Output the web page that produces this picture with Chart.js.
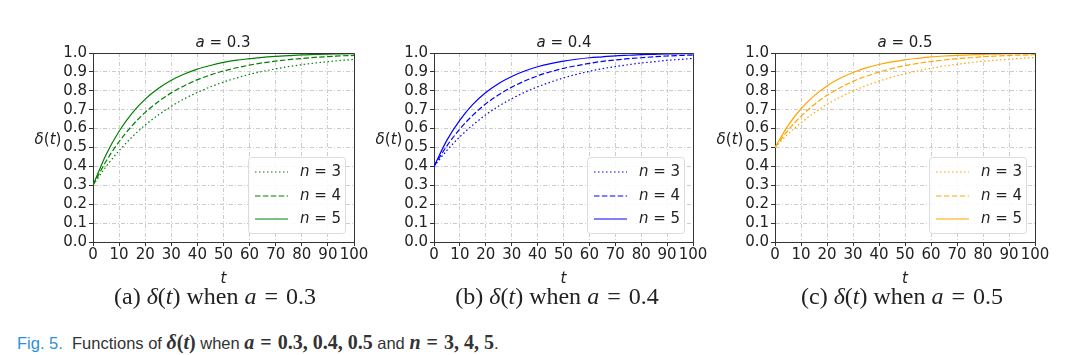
<!DOCTYPE html>
<html>
<head>
<meta charset="utf-8">
<script src="https://cdn.jsdelivr.net/npm/chart.js@4.4.0/dist/chart.umd.min.js"></script>
<style>
  body { margin: 0; background: #fff; }
  #page { position: relative; width: 1078px; height: 355px; overflow: hidden; background: #fff; }
  .holder { position: absolute; top: 30px; width: 370px; height: 260px; }
  .lbl { position: absolute; transform: translate(-50%, -50%); white-space: nowrap; color: #222;
         font-family: "DejaVu Sans", sans-serif; font-size: 15px; line-height: 18px; }
  .cap { position: absolute; transform: translate(-50%, -50%); white-space: nowrap; color: #222;
         font-family: "Liberation Serif", "DejaVu Serif", serif; font-size: 24px; line-height: 26px; }
  .cap .eq { margin: 0 8px; }
  #fig { position: absolute; left: 17px; top: 342px; transform: translateY(-50%); white-space: nowrap; color: #333;
         font-family: "Liberation Sans", Arial, sans-serif; font-size: 16.5px; line-height: 20px; }
  #fig .blue { color: #2f8fd8; }
  #fig b { font-family: "Liberation Serif", serif; font-size: 20px; }
  #fig .eq { margin: 0 6px; }
</style>
</head>
<body>
<div id="page">
  <div class="holder" style="left:0px"><canvas id="c1" width="370" height="260"></canvas></div>
  <div class="holder" style="left:341px"><canvas id="c2" width="370" height="260"></canvas></div>
  <div class="holder" style="left:682px"><canvas id="c3" width="370" height="260"></canvas></div>

  <div class="lbl" style="left:223px;top:42px"><i>a</i> = 0.3</div>
  <div class="lbl" style="left:564px;top:42px"><i>a</i> = 0.4</div>
  <div class="lbl" style="left:905px;top:42px"><i>a</i> = 0.5</div>

  <div class="lbl" style="left:48px;top:139px"><i>δ</i>(<i>t</i>)</div>
  <div class="lbl" style="left:389px;top:139px"><i>δ</i>(<i>t</i>)</div>
  <div class="lbl" style="left:730px;top:139px"><i>δ</i>(<i>t</i>)</div>

  <div class="cap" style="left:215px;top:296px">(a) <i>δ</i>(<i>t</i>) when <i>a</i><span class="eq">=</span>0.3</div>
  <div class="cap" style="left:557px;top:296px">(b) <i>δ</i>(<i>t</i>) when <i>a</i><span class="eq">=</span>0.4</div>
  <div class="cap" style="left:902px;top:296px">(c) <i>δ</i>(<i>t</i>) when <i>a</i><span class="eq">=</span>0.5</div>

  <div id="fig"><span class="blue">Fig. 5.</span>&nbsp; Functions of <b><i>δ</i>(<i>t</i>)</b> when <b><i>a</i><span class="eq">=</span>0.3, 0.4, 0.5</b> and <b><i>n</i><span class="eq">=</span>3, 4, 5</b>.</div>
</div>

<script>
// time axis samples
const tValues = [0, 5, 10, 15, 20, 25, 30, 35, 40, 45, 50, 55, 60, 65, 70, 75, 80, 85, 90, 95, 100];
const nValues = [3, 4, 5];
const yTicks = [0, 0.1, 0.2, 0.3, 0.4, 0.5, 0.6, 0.7, 0.8, 0.9, 1.0];

// a = 0.3
const a03n3 = [0.300, 0.399, 0.483, 0.556, 0.619, 0.672, 0.718, 0.758, 0.791, 0.821, 0.846, 0.868, 0.887, 0.903, 0.916, 0.928, 0.938, 0.947, 0.954, 0.961, 0.966];
const a03n4 = [0.300, 0.427, 0.531, 0.616, 0.686, 0.742, 0.789, 0.827, 0.859, 0.884, 0.905, 0.922, 0.936, 0.948, 0.957, 0.965, 0.971, 0.977, 0.981, 0.985, 0.987];
const a03n5 = [0.300, 0.462, 0.586, 0.682, 0.756, 0.812, 0.856, 0.889, 0.915, 0.934, 0.950, 0.962, 0.970, 0.977, 0.982, 0.986, 0.990, 0.992, 0.994, 0.995, 0.996];

// a = 0.4
const a04n3 = [0.400, 0.485, 0.557, 0.619, 0.673, 0.719, 0.758, 0.792, 0.821, 0.846, 0.868, 0.887, 0.903, 0.917, 0.928, 0.938, 0.947, 0.954, 0.961, 0.966, 0.971];
const a04n4 = [0.400, 0.509, 0.598, 0.671, 0.731, 0.779, 0.819, 0.852, 0.879, 0.901, 0.919, 0.933, 0.945, 0.956, 0.963, 0.970, 0.975, 0.980, 0.984, 0.987, 0.989];
const a04n5 = [0.400, 0.539, 0.645, 0.728, 0.791, 0.839, 0.876, 0.905, 0.927, 0.944, 0.957, 0.967, 0.975, 0.980, 0.985, 0.988, 0.991, 0.993, 0.995, 0.996, 0.997];

// a = 0.5
const a05n3 = [0.500, 0.571, 0.631, 0.683, 0.728, 0.766, 0.799, 0.827, 0.851, 0.872, 0.890, 0.906, 0.919, 0.931, 0.940, 0.949, 0.956, 0.962, 0.967, 0.972, 0.976];
const a05n4 = [0.500, 0.591, 0.665, 0.726, 0.776, 0.816, 0.850, 0.877, 0.899, 0.918, 0.933, 0.945, 0.955, 0.963, 0.970, 0.975, 0.980, 0.984, 0.987, 0.989, 0.991];
const a05n5 = [0.500, 0.616, 0.705, 0.773, 0.826, 0.866, 0.897, 0.921, 0.939, 0.953, 0.964, 0.972, 0.979, 0.984, 0.987, 0.990, 0.993, 0.994, 0.996, 0.997, 0.997];

const lineDashes = [[1.5, 2.5], [5.5, 2.4], []];

//----------- frame (top/right spines) and boxed legend -----------
function px(p) {
  return Math.round(p - 0.5) + 0.5;
}

const frameAndLegend = {
  id: 'frameAndLegend',
  afterDatasetsDraw(chart) {
    const ctx = chart.ctx;
    const area = chart.chartArea;
    ctx.save();
    ctx.setLineDash([]);
    ctx.strokeStyle = '#333';
    ctx.lineWidth = 1;
    ctx.beginPath();
    ctx.moveTo(px(area.left), px(area.top));
    ctx.lineTo(px(area.right), px(area.top));
    ctx.lineTo(px(area.right), px(area.bottom));
    ctx.stroke();

    // legend box in lower right corner
    const w = 97, h = 76;
    const x = Math.round(area.right - 9 - w);
    const y = Math.round(area.bottom - 9 - h);
    ctx.beginPath();
    ctx.roundRect(x + 0.5, y + 0.5, w, h, 3);
    ctx.fillStyle = 'rgba(255,255,255,0.85)';
    ctx.fill();
    ctx.strokeStyle = '#dcdcdc';
    ctx.stroke();

    chart.data.datasets.forEach((ds, i) => {
      const ly = y + 15 + Math.round(i * 23.5);
      ctx.save();
      ctx.beginPath();
      ctx.setLineDash(ds.borderDash);
      ctx.strokeStyle = ds.borderColor;
      ctx.lineWidth = ds.borderWidth;
      ctx.moveTo(x + 7, ly);
      ctx.lineTo(x + 40, ly);
      ctx.stroke();
      ctx.restore();

      const parts = ds.label.split(' = ');
      ctx.fillStyle = '#222';
      ctx.textBaseline = 'middle';
      ctx.font = 'italic 15px "DejaVu Sans"';
      ctx.fillText(parts[0], x + 52, ly);
      const nw = ctx.measureText(parts[0]).width;
      ctx.font = '15px "DejaVu Sans"';
      ctx.fillText(' = ' + parts[1], x + 52 + nw, ly);
    });
    ctx.restore();
  }
};

function drawPanel(canvasId, color, series, padRight) {
  const datasets = series.map((vals, i) => ({
    label: 'n = ' + nValues[i],
    data: tValues.map((t, j) => ({ x: t, y: vals[j] })),
    borderColor: color,
    borderWidth: 1.2,
    borderDash: lineDashes[i],
    pointRadius: 0,
    fill: false,
    cubicInterpolationMode: 'monotone'
  }));

  new Chart(document.getElementById(canvasId), {
    type: 'line',
    data: { datasets: datasets },
    plugins: [frameAndLegend],
    options: {
      responsive: false,
      animation: false,
      events: [],
      layout: { padding: { left: 57, right: padRight, top: 23, bottom: 0 } },
      plugins: {
        legend: { display: false },
        tooltip: { enabled: false }
      },
      scales: {
        x: {
          type: 'linear',
          min: 0,
          max: 100,
          afterFit: (scale) => { scale.height = 48; },
          ticks: {
            stepSize: 10,
            autoSkip: false,
            maxRotation: 0,
            minRotation: 0,
            padding: 0,
            color: '#222',
            font: { family: 'DejaVu Sans', size: 15 }
          },
          grid: { color: '#cccccc', lineWidth: 1, tickColor: '#333', tickLength: 4 },
          border: { display: true, color: '#333', width: 1, dash: [4, 2, 1, 2] },
          title: {
            display: true,
            text: 't',
            color: '#222',
            padding: { top: 0, bottom: 2 },
            font: { family: 'DejaVu Sans', size: 15, style: 'italic' }
          }
        },
        y: {
          type: 'linear',
          min: 0,
          max: 1,
          afterFit: (scale) => { scale.width = 36; },
          afterBuildTicks: (scale) => { scale.ticks = yTicks.map(v => ({ value: v })); },
          ticks: {
            autoSkip: false,
            padding: 2,
            color: '#222',
            font: { family: 'DejaVu Sans', size: 15 },
            callback: (v) => Number(v).toFixed(1)
          },
          grid: { color: '#cccccc', lineWidth: 1, tickColor: '#333', tickLength: 4 },
          border: { display: true, color: '#333', width: 1, dash: [4, 2, 1, 2] }
        }
      }
    }
  });
}

drawPanel('c1', 'green', [a03n3, a03n4, a03n5], 16);
drawPanel('c2', '#0000ff', [a04n3, a04n4, a04n5], 18);
drawPanel('c3', '#ffa500', [a05n3, a05n4, a05n5], 17);
</script>
</body>
</html>
